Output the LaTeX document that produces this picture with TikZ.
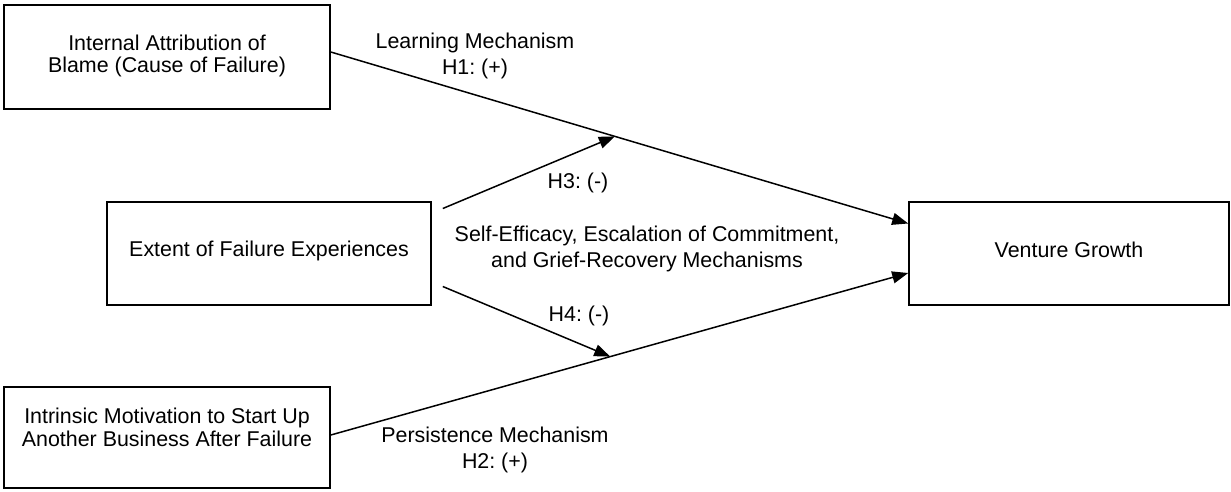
\documentclass[tikz,border=0pt]{standalone}
\usepackage{fontspec}
\setmainfont{Liberation Sans}
\usetikzlibrary{arrows.meta}
\frenchspacing
\begin{document}
\begin{tikzpicture}[x=1pt,y=-1pt,
  box/.style={draw,line width=1.6pt,inner sep=0pt},
  boxtext/.style={align=center,inner sep=0pt,font=\fontsize{21.4}{22.5}\selectfont},
  lbl/.style={align=center,inner sep=0pt,font=\fontsize{21.4}{25.5}\selectfont},
  conn/.style={line width=1.5pt,-{Triangle[length=16pt,width=12pt]}}]
\useasboundingbox (0,0) rectangle (1231,491);
\node[box,minimum width=326pt,minimum height=104pt] (A) at (167,57) {};
\node[box,minimum width=324pt,minimum height=103pt] (B) at (269,253.5) {};
\node[box,minimum width=326pt,minimum height=101pt] (C) at (167,437.5) {};
\node[box,minimum width=320pt,minimum height=103pt] (D) at (1069,253.5) {};
\node[boxtext] (At) at ([yshift=1pt]A.center) {Internal Attribution of\\Blame (Cause of Failure)};
\node[boxtext] (Bt) at ([yshift=3pt]B.center) {Extent of Failure Experiences};
\node[boxtext] (Ct) at ([yshift=10pt]C.center) {Intrinsic Motivation to Start Up\\Another Business After Failure};
\node[boxtext] (Dt) at ([yshift=4pt]D.center) {Venture Growth};
\coordinate (a1) at ([yshift=5pt]A.east);
\coordinate (d1) at ([yshift=30pt]D.west);
\coordinate (c1) at ([yshift=2.5pt]C.east);
\coordinate (d2) at ([yshift=-19.5pt]D.west);
\path (a1) -- (d1) coordinate[pos=0.492] (m1);
\path (c1) -- (d2) coordinate[pos=0.484] (m2);
\coordinate (b1) at ([xshift=11pt,yshift=45pt]B.east);
\coordinate (b2) at ([xshift=11pt,yshift=-33pt]B.east);
\draw[conn] (a1) -- (d1);
\draw[conn] (c1) -- (d2);
\draw[conn] (b1) -- (m1);
\draw[conn] (b2) -- (m2);
\node[lbl] (l1) at (475,56) {Learning Mechanism\\H1: (+)};
\node[lbl] (l3) at (578,183) {H3: (-)};
\node[lbl] (l5) at (647,249) {Self-Efficacy, Escalation of Commitment,\\and Grief-Recovery Mechanisms};
\node[lbl] (l4) at (579,316) {H4: (-)};
\node[lbl] (l2) at (495,450) {Persistence Mechanism\\H2: (+)};
\end{tikzpicture}
\end{document}
